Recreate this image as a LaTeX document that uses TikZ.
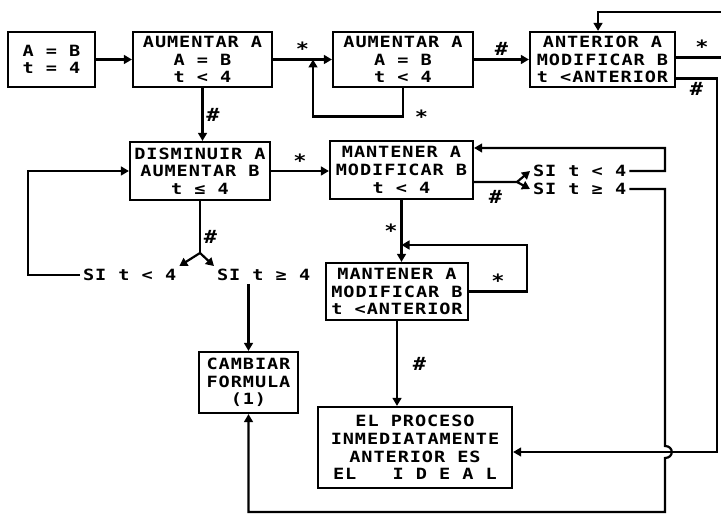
\documentclass[tikz,border=0pt]{standalone}
\usepackage{fontspec}
\newfontfamily\dotfont{DejaVu Sans Mono}[FakeStretch=1.2, LetterSpace=6]
\usetikzlibrary{arrows.meta}
\tikzset{
  proc/.style={
    rectangle, draw=black, line width=0.55mm, align=center,
    inner sep=1pt, font=\dotfont\bfseries\fontsize{11}{12.6}\selectfont,
  },
  cond/.style={
    inner sep=2pt, font=\dotfont\bfseries\fontsize{11}{12.6}\selectfont,
  },
  link/.style={
    line width=0.55mm, draw=black,
  },
  arrow/.style={
    link, -{Triangle[length=2mm, width=2.2mm]},
  },
  tag/.style={
    font=\dotfont\bfseries\fontsize{13}{13}\selectfont, inner sep=2pt,
  }
}

\begin{document}
\begin{tikzpicture}[x=0.25mm, y=-0.25mm]
  \useasboundingbox (0,0) rectangle (721,514);
  \clip (0,0) rectangle (721,514);

  % first row
  \node[proc, minimum width=21.75mm, minimum height=13.75mm] (ini) at (51.5,59.5)
    {A = B\\t = 4};
  \node[proc, minimum width=34.75mm, minimum height=13.75mm] (aum1) at (202.5,59.5)
    {AUMENTAR A\\A = B\\t < 4};
  \node[proc, minimum width=35mm, minimum height=13.75mm] (aum2) at (403,59.5)
    {AUMENTAR A\\A = B\\t < 4};
  \node[proc, minimum width=36.25mm, minimum height=13.75mm] (ant) at (602.5,59.5)
    {ANTERIOR A\\MODIFICAR B\\t <ANTERIOR};

  % second row
  \node[proc, minimum width=35mm, minimum height=14.5mm] (dis) at (200,171)
    {DISMINUIR A\\AUMENTAR B\\t ≤ 4};
  \node[proc, minimum width=35.75mm, minimum height=14.5mm] (man1) at (401.5,170)
    {MANTENER A\\MODIFICAR B\\t < 4};
  \node[cond, anchor=west] (siA) at (530,171) {SI t < 4};
  \node[cond, anchor=west] (siB) at (530,189) {SI t ≥ 4};
  \node[cond, anchor=west] (siC) at (80,275) {SI t < 4};
  \node[cond, anchor=west] (siD) at (214,275) {SI t ≥ 4};

  % lower part
  \node[proc, minimum width=35.5mm, minimum height=14.25mm] (man2) at (397,291.5)
    {MANTENER A\\MODIFICAR B\\t <ANTERIOR};
  \node[proc, minimum width=24.75mm, minimum height=15.25mm] (camb) at (248.5,382.5)
    {CAMBIAR\\FORMULA\\(1)};
  \node[proc, minimum width=48.5mm, minimum height=20.25mm] (ideal) at (415,447.5)
    {EL PROCESO\\INMEDIATAMENTE\\ANTERIOR ES\\EL~~~I~D~E~A~L};

  \coordinate (join1) at (313,59.5);
  \coordinate (loopA) at (728,12);
  \coordinate (rside) at (717,452);
  \coordinate (cA) at (665,148);
  \coordinate (jtop) at (665,446);
  \coordinate (jbot) at (665,458);
  \coordinate (botR) at (665,512);
  \coordinate (fk1) at (200,253);
  \coordinate (fk2) at (517,182);
  \coordinate (lc) at (28,275);
  \coordinate (l7) at (527,245);

  % connectors
  \draw[arrow] (ini) -- (aum1);
  \draw[arrow] (aum1) -- node[tag, midway, above] {*} (aum2);
  \draw[arrow] (aum2.south) -- ++(0,28.5) node[tag, right, xshift=2mm] {*} -| (join1);
  \draw[arrow] (aum2) -- node[tag, midway, above] {\#} (ant);
  \draw[arrow] ([yshift=0.5mm]ant.east) -| node[tag, pos=0.25, above] {*} (loopA)
    -| ([xshift=-1.125mm]ant.north);
  \draw[arrow] ([yshift=-4.75mm]ant.east) -| node[tag, pos=0.25, below] {\#} (rside)
    -- (rside -| ideal.east);

  \draw[arrow] (aum1.south) -- node[tag, midway, right] {\#} (aum1.south |- dis.north);
  \draw[arrow] (dis.east) -- node[tag, midway, above] {*} (dis.east -| man1.west);
  \draw[link] (dis.south) -- node[tag, pos=0.7, right] {\#} (fk1);
  \draw[arrow] (fk1) -- (siC.north east);
  \draw[arrow] (fk1) -- (siD.north west);
  \draw[arrow] (siC.west) -- (siC.west -| lc) |- (dis.west);
  \draw[arrow] (siD.south -| camb.north) -- (camb.north);

  \draw[link] ([yshift=-3mm]man1.east) -- node[tag, midway, below, yshift=-1mm] {\#} (fk2);
  \draw[arrow] (fk2) -- (siA.west);
  \draw[arrow] (fk2) -- (siB.west);
  \draw[arrow] (siA.east) -| (cA) -- ([yshift=5.5mm]man1.east);
  \draw[arrow] (siB.east) -| (jtop) .. controls +(9,0) and +(9,0) .. (jbot)
    -- (botR) -| (camb.south);

  \draw[arrow] (man1.south) -- node[tag, midway, left] {*} (man1.south |- man2.north);
  \draw[arrow] (man2.east) -| node[tag, pos=0.25, above] {*} (l7) -- (l7 -| man1.south);
  \draw[arrow] (man2.south) -- node[tag, midway, right, xshift=3mm] {\#} (man2.south |- ideal.north);

\end{tikzpicture}
\end{document}
